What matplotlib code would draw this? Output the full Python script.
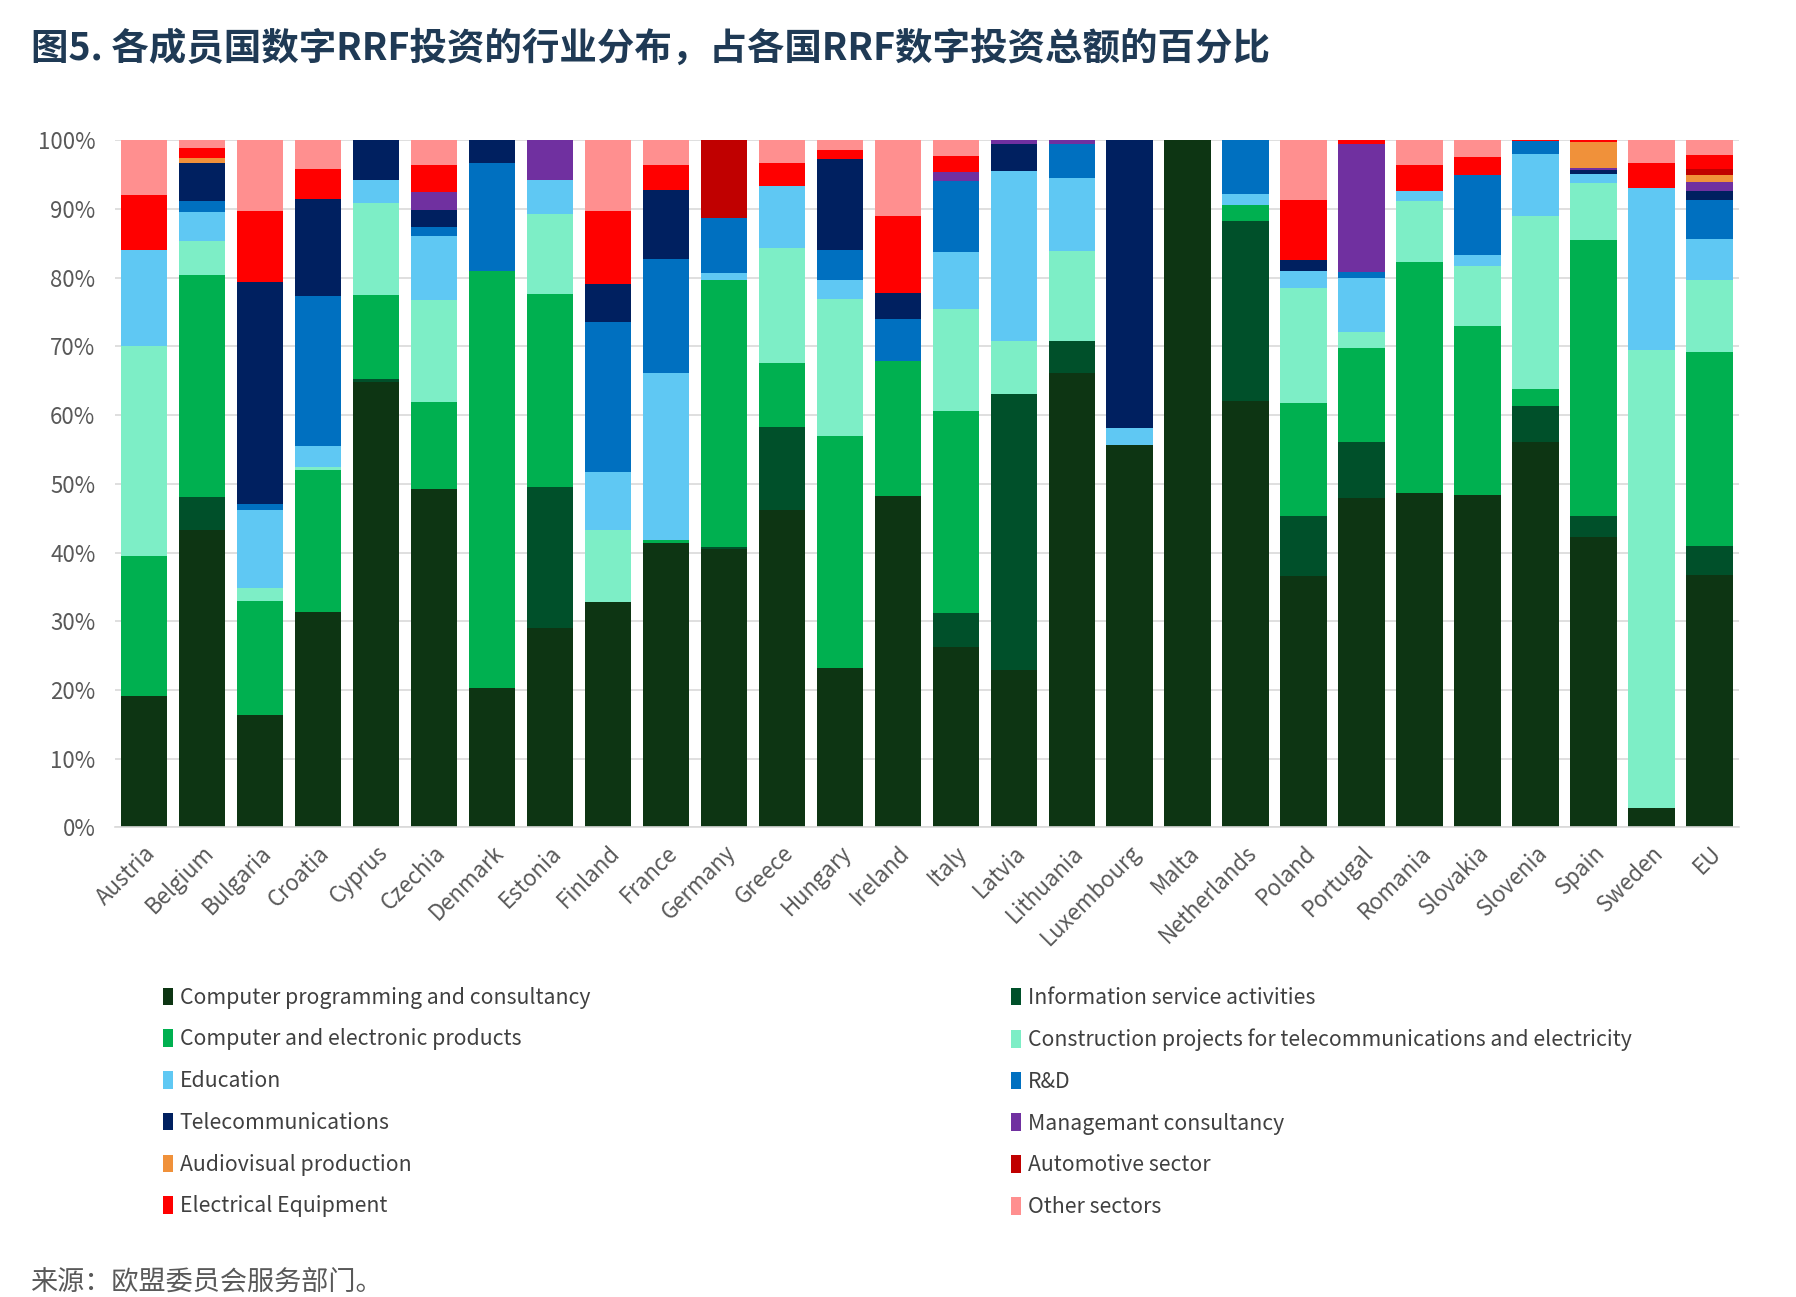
import numpy as np
import matplotlib
matplotlib.use('Agg')
import matplotlib.pyplot as plt
from matplotlib.patches import Patch

plt.rcParams['font.family'] = ['Noto Sans CJK SC', 'DejaVu Sans']

# Data (% of each country's RRF digital investment) #

countries = ['Austria', 'Belgium', 'Bulgaria', 'Croatia', 'Cyprus', 'Czechia', 'Denmark',
             'Estonia', 'Finland', 'France', 'Germany', 'Greece', 'Hungary', 'Ireland',
             'Italy', 'Latvia', 'Lithuania', 'Luxembourg', 'Malta', 'Netherlands', 'Poland',
             'Portugal', 'Romania', 'Slovakia', 'Slovenia', 'Spain', 'Sweden', 'EU']

comp_programming = [19.1, 43.3, 16.3, 31.3, 64.8, 49.3, 20.3, 29.0, 32.8, 41.4, 40.5, 46.2, 23.2, 48.2,
                    26.2, 22.9, 66.1, 55.7, 100, 62.0, 36.6, 48.0, 48.6, 48.3, 56.1, 42.3, 2.8, 36.8]
info_service = [0, 4.8, 0, 0, 0.4, 0, 0, 20.6, 0, 0, 0.3, 12.0, 0, 0,
                5.0, 40.1, 4.7, 0, 0, 26.3, 8.7, 8.1, 0, 0, 5.2, 3.0, 0, 4.2]
comp_electronic = [20.4, 32.3, 16.6, 20.7, 12.3, 12.6, 60.7, 28.0, 0, 0.4, 38.9, 9.4, 33.7, 19.6,
                   29.4, 0, 0, 0, 0, 2.2, 16.4, 13.7, 33.7, 24.7, 2.5, 40.1, 0, 28.2]
construction = [30.6, 4.9, 2.0, 0.4, 13.3, 14.9, 0, 11.6, 10.5, 0, 0, 16.7, 20.0, 0,
                14.8, 7.8, 13.1, 0, 0, 0, 16.8, 2.3, 8.9, 8.7, 25.2, 8.3, 66.6, 10.4]
education = [13.9, 4.3, 11.3, 3.1, 3.4, 9.3, 0, 5.0, 8.4, 24.3, 1.0, 9.0, 2.8, 0,
             8.3, 24.7, 10.6, 2.4, 0, 1.7, 2.5, 7.9, 1.4, 1.6, 9.0, 1.4, 23.7, 6.0]
r_and_d = [0, 1.6, 0.8, 21.8, 0, 1.2, 15.6, 0, 21.8, 16.6, 8.0, 0, 4.3, 6.1,
           10.3, 0, 5.0, 0, 0, 7.8, 0, 0.8, 0, 11.6, 1.8, 0, 0, 5.7]
telecom = [0, 5.5, 32.4, 14.1, 5.8, 2.6, 3.4, 0, 5.6, 10.1, 0, 0, 13.3, 3.8,
           0, 4.0, 0, 41.9, 0, 0, 1.6, 0, 0, 0, 0, 0.6, 0, 1.3]
management = [0, 0, 0, 0, 0, 2.6, 0, 5.8, 0, 0, 0, 0, 0, 0,
              1.4, 0.5, 0.5, 0, 0, 0, 0, 18.7, 0, 0, 0, 0.2, 0, 1.3]
audiovisual = [0, 0.7, 0, 0, 0, 0, 0, 0, 0, 0, 0, 0, 0, 0,
               0, 0, 0, 0, 0, 0, 0, 0, 0, 0, 0, 3.8, 0, 1.0]
automotive = [0, 0, 0, 0, 0, 0, 0, 0, 0, 0, 11.3, 0, 0, 0,
              0, 0, 0, 0, 0, 0, 0, 0, 0, 0, 0, 0, 0, 0.9]
electrical = [8.0, 1.4, 10.3, 4.4, 0, 3.9, 0, 0, 10.6, 3.6, 0, 3.4, 1.3, 11.2,
              2.3, 0, 0, 0, 0, 0, 8.7, 0.5, 3.8, 2.6, 0.2, 0.3, 3.5, 2.0]
other = [8.0, 1.2, 10.3, 4.2, 0, 3.6, 0, 0, 10.3, 3.6, 0, 3.3, 1.4, 11.1,
         2.3, 0, 0, 0, 0, 0, 8.7, 0, 3.6, 2.5, 0, 0, 3.4, 2.2]

sectors = ['Computer programming and consultancy', 'Information service activities',
           'Computer and electronic products',
           'Construction projects for telecommunications and electricity',
           'Education', 'R&D', 'Telecommunications', 'Managemant consultancy',
           'Audiovisual production', 'Automotive sector', 'Electrical Equipment', 'Other sectors']
series = [comp_programming, info_service, comp_electronic, construction, education, r_and_d,
          telecom, management, audiovisual, automotive, electrical, other]
colours = ['#0d3513', '#00502a', '#00b050', '#7deec6', '#5fc8f3', '#0070c0',
           '#002060', '#7030a0', '#f0913a', '#c00000', '#ff0000', '#ff8f8f']

title = '图5. 各成员国数字RRF投资的行业分布，占各国RRF数字投资总额的百分比'
source = '来源：欧盟委员会服务部门。'

# Plot #

fig = plt.figure(figsize=(17.96, 12.97), dpi=100)
ax = fig.add_axes([0.064, 0.362, 0.904, 0.530])

x = np.arange(len(countries))
bottom = np.zeros(len(countries))
for vals, col, name in zip(series, colours, sectors):
    vals = np.array(vals, dtype=float)
    ax.bar(x, vals, 0.8, bottom=bottom, color=col, label=name, zorder=2)
    bottom += vals

ax.set_xlim(-0.5, len(countries) - 0.5)
ax.set_ylim(0, 100)
ax.set_yticks(np.arange(0, 101, 10))
ax.set_yticklabels(['%d%%' % v for v in range(0, 101, 10)])
ax.set_xticks(x)
ax.set_xticklabels(countries, rotation=45, ha='right', va='top', rotation_mode='anchor')
ax.tick_params(axis='y', length=0, pad=14, labelsize=16, labelcolor='#595959')
ax.tick_params(axis='x', length=0, pad=10, labelsize=16, labelcolor='#595959')

ax.grid(axis='y', color='#d9d9d9', linewidth=1.2, zorder=0)
for side in ['top', 'right', 'left']:
    ax.spines[side].set_visible(False)
ax.spines['bottom'].set_color('#d9d9d9')
ax.spines['bottom'].set_linewidth(1.2)

# Legend in two columns, filled row by row
handles = [Patch(facecolor=c) for c in colours]
left_idx = [0, 2, 4, 6, 8, 10]
right_idx = [1, 3, 5, 7, 9, 11]
for idx, xpos in [(left_idx, 0.080), (right_idx, 0.552)]:
    fig.legend([handles[i] for i in idx], [sectors[i] for i in idx],
               loc='upper left', bbox_to_anchor=(xpos, 0.254), frameon=False,
               fontsize=15.3, labelcolor='#404040', handlelength=0.5, handleheight=0.9,
               handletextpad=0.3, labelspacing=0.93)

fig.text(0.017, 0.963, title, fontsize=27, fontweight='bold', color='#1f3a55', va='center')
fig.text(0.017, 0.0115, source, fontsize=19.5, color='#595959', va='center')

fig.savefig('out.png', dpi=100)
